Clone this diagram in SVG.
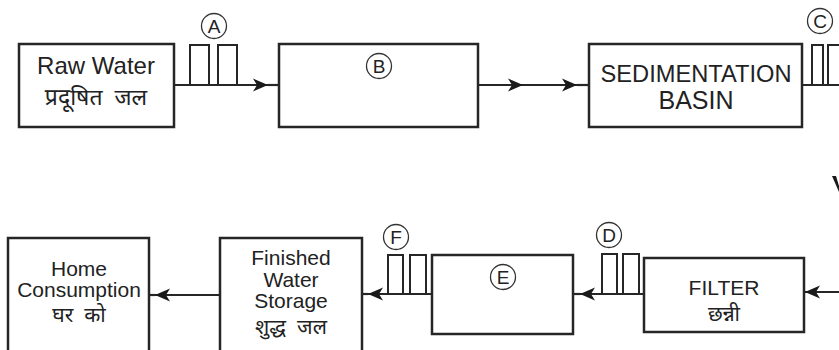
<svg xmlns="http://www.w3.org/2000/svg" width="839" height="350" viewBox="0 0 839 350">
<style>
.box{fill:#fff;stroke:#262626;stroke-width:2.5}
.tank{fill:#fff;stroke:#262626;stroke-width:2}
.ln{fill:none;stroke:#262626;stroke-width:2.2}
.circ{fill:none;stroke:#333;stroke-width:1.3}
.t{font-family:"Liberation Sans",Arial,"Noto Sans",sans-serif;fill:#222;text-anchor:middle}
.hi{font-family:"Noto Sans","Noto Sans Devanagari","Lohit Devanagari","Liberation Sans",sans-serif;fill:#222;text-anchor:middle}
.lt{font-family:"Liberation Sans",Arial,sans-serif;fill:#222;text-anchor:middle;font-size:19px}
</style>
<defs>
<marker id="arr" markerUnits="userSpaceOnUse" viewBox="-16 -8 18 16" refX="0" refY="0" markerWidth="18" markerHeight="16" orient="auto">
<path d="M0,0 L-15,-6.5 L-11,0 L-15,6.5 Z" fill="#1a1a1a"/>
</marker>
</defs>

<g id="connectors">
<path class="ln" d="M174,85 H268" marker-end="url(#arr)"/>
<path class="ln" d="M268,85 H279"/>
<path class="ln" d="M478,85 H523" marker-end="url(#arr)"/>
<path class="ln" d="M523,85 H577" marker-end="url(#arr)"/>
<path class="ln" d="M577,85 H589"/>
<path class="ln" d="M802,85 H839"/>
<path class="ln" d="M839,292 H805" marker-end="url(#arr)"/>
<path class="ln" d="M644,294 H580" marker-end="url(#arr)"/>
<path class="ln" d="M580,294 H573"/>
<path class="ln" d="M432,294 H368" marker-end="url(#arr)"/>
<path class="ln" d="M368,294 H362"/>
<path class="ln" d="M220,295 H155" marker-end="url(#arr)"/>
<path class="ln" d="M155,295 H149"/>
<path d="M832,176 L836,176 L839,186 L839,192 Z" fill="#1a1a1a"/>
</g>

<g id="raw-water">
<rect class="box" x="19" y="44" width="155" height="83"/>
<text class="t" x="96" y="74" font-size="24">Raw Water</text>
<text class="hi" x="96" y="105" font-size="23">प्रदूषित&#160;&#160;जल</text>
</g>

<g id="A">
<rect class="tank" x="190" y="45" width="19" height="40"/>
<rect class="tank" x="218" y="45" width="19" height="40"/>
<circle class="circ" cx="214" cy="26" r="12.5"/>
<text class="lt" x="214" y="33">A</text>
</g>

<g id="B">
<rect class="box" x="279" y="44" width="199" height="83"/>
<circle class="circ" cx="379" cy="66" r="12.5"/>
<text class="lt" x="379" y="73">B</text>
</g>

<g id="sedimentation-basin">
<rect class="box" x="589" y="44" width="213" height="83"/>
<text class="t" x="696" y="82" font-size="24" textLength="191" lengthAdjust="spacingAndGlyphs">SEDIMENTATION</text>
<text class="t" x="696" y="109" font-size="25">BASIN</text>
</g>

<g id="C">
<rect class="tank" x="812" y="45" width="11" height="40"/>
<rect class="tank" x="828" y="45" width="16" height="40"/>
<circle class="circ" cx="820" cy="21" r="12.5"/>
<text class="lt" x="820" y="28">C</text>
</g>

<g id="filter">
<rect class="box" x="644" y="258" width="160" height="74"/>
<text class="t" x="724" y="295" font-size="21">FILTER</text>
<text class="hi" x="724" y="321" font-size="21">छन्नी</text>
</g>

<g id="D">
<rect class="tank" x="602" y="254" width="15" height="40"/>
<rect class="tank" x="623" y="254" width="16" height="40"/>
<circle class="circ" cx="609" cy="235" r="12.5"/>
<text class="lt" x="609" y="242">D</text>
</g>

<g id="E">
<rect class="box" x="432" y="255" width="141" height="79"/>
<circle class="circ" cx="503" cy="277" r="12.5"/>
<text class="lt" x="503" y="284">E</text>
</g>

<g id="F">
<rect class="tank" x="388" y="255" width="15" height="39"/>
<rect class="tank" x="410" y="255" width="16" height="39"/>
<circle class="circ" cx="396" cy="237" r="12.5"/>
<text class="lt" x="396" y="244">F</text>
</g>

<g id="finished-water-storage">
<rect class="box" x="220" y="238" width="142" height="130"/>
<text class="t" x="291" y="265" font-size="21">Finished</text>
<text class="t" x="291" y="287" font-size="21">Water</text>
<text class="t" x="291" y="308" font-size="21">Storage</text>
<text class="hi" x="291" y="334" font-size="21">शुद्ध&#160;&#160;जल</text>
</g>

<g id="home-consumption">
<rect class="box" x="8" y="238" width="141" height="130"/>
<text class="t" x="79" y="276" font-size="21">Home</text>
<text class="t" x="79" y="297" font-size="21">Consumption</text>
<text class="hi" x="79" y="322" font-size="21">घर&#160;&#160;को</text>
</g>
</svg>
